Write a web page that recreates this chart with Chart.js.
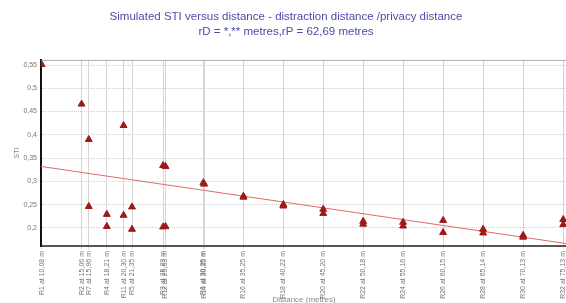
<!DOCTYPE html>
<html>
<head>
<meta charset="utf-8">
<script src="https://cdn.jsdelivr.net/npm/chart.js@4"></script>
<style>
  html, body { margin: 0; padding: 0; background: #fff; overflow: hidden; }
  #wrap { width: 566px; height: 303px; overflow: hidden; }
</style>
</head>
<body>
<div id="wrap"><canvas id="chart" width="572" height="303"></canvas></div>
<script>
// receivers on the x axis (distance in metres)
const receiverNames = ["R1", "R2", "R7", "R4", "R11", "R5", "R3", "R12", "R6", "R14",
    "R16", "R18", "R20", "R22", "R24", "R26", "R28", "R30", "R32"];
const receiverDist = [10.08, 15.06, 15.96, 18.21, 20.30, 21.35, 25.23, 25.53, 30.25, 30.35,
    35.25, 40.22, 45.20, 50.18, 55.16, 60.15, 65.14, 70.13, 75.13];
// simulated STI, up to two values per receiver
const stiFirst = [0.551, 0.466, 0.390, 0.229, 0.420, 0.245, 0.334, 0.332, 0.297, 0.294,
    0.268, 0.250, 0.240, 0.214, 0.212, 0.216, 0.197, 0.184, 0.218];
const stiSecond = [null, null, 0.246, 0.203, 0.227, 0.197, 0.202, 0.203, null, null,
    0.266, 0.247, 0.231, 0.208, 0.204, 0.190, 0.189, 0.180, 0.207];
// linear fit
const trendDist = [10, 75.6];
const trendSti = [0.332, 0.166];
const yTicks = [0.2, 0.25, 0.3, 0.35, 0.4, 0.45, 0.5, 0.55];

const tickLabels = receiverNames.map((n, i) =>
    n + " at " + receiverDist[i].toFixed(2).replace(".", ",") + " m");

const points = [];
receiverDist.forEach((d, i) => {
    points.push({ x: d, y: stiFirst[i] });
    if (stiSecond[i] !== null) points.push({ x: d, y: stiSecond[i] });
});

const frame = {
    id: "frame",
    beforeDatasetsDraw(chart) {
        const a = chart.chartArea;
        const ctx = chart.ctx;
        ctx.save();
        ctx.strokeStyle = "#b0b0b0";
        ctx.lineWidth = 1;
        ctx.beginPath();
        ctx.moveTo(a.left, a.top + 0.5);
        ctx.lineTo(a.right, a.top + 0.5);
        ctx.stroke();
        ctx.restore();
    }
};

new Chart(document.getElementById("chart"), {
    type: "scatter",
    data: {
        datasets: [
            {
                data: points,
                pointStyle: "triangle",
                radius: 4,
                backgroundColor: "#9c1a1a",
                borderColor: "#9c1a1a",
                borderWidth: 1,
            },
            {
                type: "line",
                data: trendDist.map((d, i) => ({ x: d, y: trendSti[i] })),
                borderColor: "#e06a6a",
                borderWidth: 1,
                pointRadius: 0,
                fill: false,
            },
        ],
    },
    options: {
        responsive: false,
        animation: false,
        layout: { padding: { left: 0, right: 0, top: 0, bottom: 0 } },
        plugins: {
            legend: { display: false },
            tooltip: { enabled: false },
            title: {
                display: true,
                text: ["Simulated STI versus distance - distraction distance /privacy distance",
                    "rD = *,** metres,rP = 62,69 metres"],
                color: "#4b4ba8",
                font: { family: "Liberation Sans", size: 11.5, weight: "normal", lineHeight: 1.3 },
                padding: { top: 9, bottom: 21 },
            },
        },
        scales: {
            x: {
                type: "linear",
                min: 10,
                max: 75.6,
                afterBuildTicks: (scale) => {
                    scale.ticks = receiverDist.map((v) => ({ value: v }));
                },
                afterFit: (scale) => {
                    scale.height = 57;
                    scale.paddingLeft = 0;
                    scale.paddingRight = 0;
                },
                ticks: {
                    autoSkip: false,
                    minRotation: 90,
                    maxRotation: 90,
                    padding: 2,
                    color: "#777",
                    font: { family: "Liberation Sans", size: 7 },
                    callback: (v, i) => tickLabels[i],
                },
                grid: { color: "#d6d6d6", lineWidth: 1, tickLength: 3 },
                border: { color: "#555", width: 2 },
                title: {
                    display: true,
                    text: "Distance (metres)",
                    color: "#888",
                    font: { family: "Liberation Sans", size: 8 },
                    padding: { top: 0, bottom: -2 },
                },
            },
            y: {
                min: 0.161,
                max: 0.561,
                afterBuildTicks: (scale) => {
                    scale.ticks = yTicks.map((v) => ({ value: v }));
                },
                afterFit: (scale) => { scale.width = 41; },
                ticks: {
                    padding: 4,
                    color: "#777",
                    font: { family: "Liberation Sans", size: 7 },
                    callback: (v) => String(+v.toFixed(2)).replace(".", ","),
                },
                grid: { color: "#d0d0d0", lineWidth: 1, tickLength: 0 },
                border: { color: "#111", width: 2, dash: [1, 1] },
                title: {
                    display: true,
                    text: "STI",
                    color: "#888",
                    font: { family: "Liberation Sans", size: 7 },
                    padding: { top: 13, bottom: 0 },
                },
            },
        },
    },
    plugins: [frame],
});
</script>
</body>
</html>
